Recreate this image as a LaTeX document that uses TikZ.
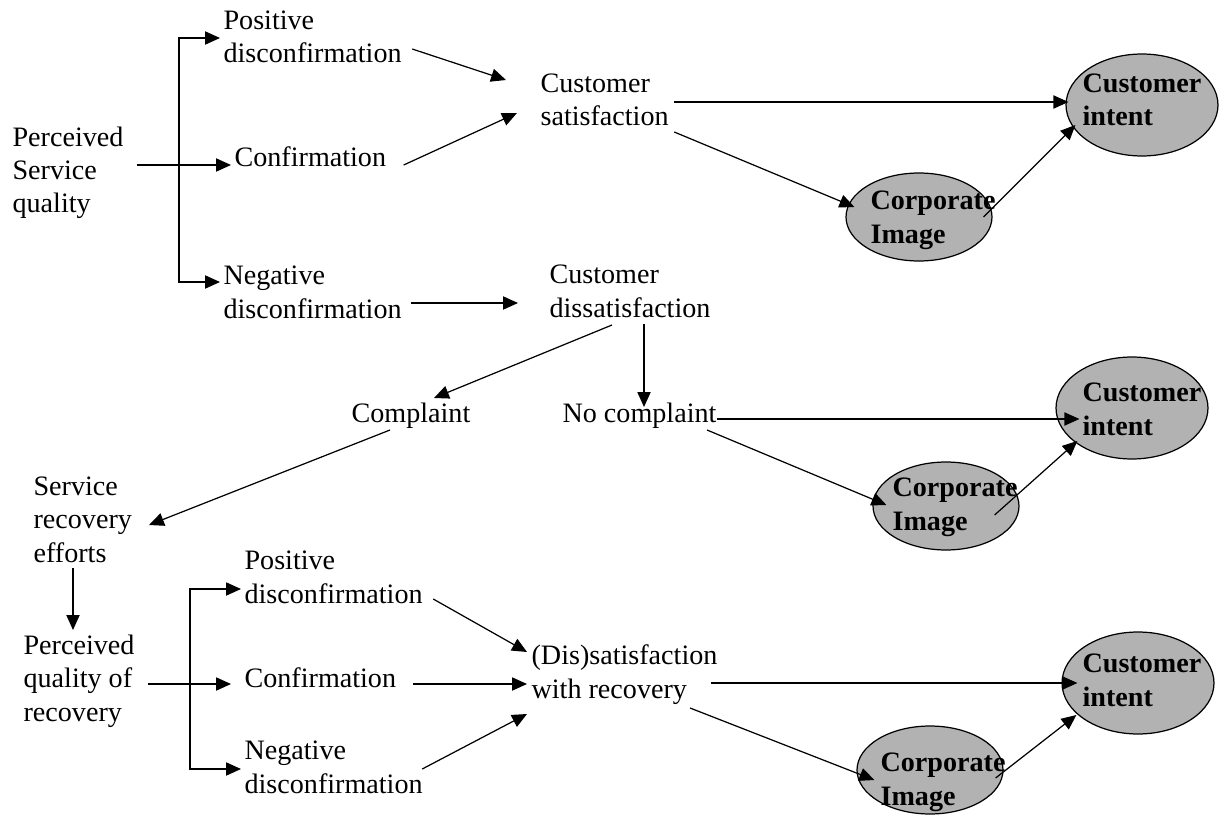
\documentclass[tikz,border=0pt]{standalone}
\usepackage{fontspec}
\setmainfont{Liberation Serif}
\usetikzlibrary{arrows.meta, shapes}

\definecolor{ovalgray}{gray}{0.7}
\tikzset{
  oval/.style={ellipse, draw, fill=ovalgray, anchor=center},
  intent/.style={oval, minimum width=3.04cm, minimum height=2.04cm},
  image/.style={oval, minimum width=2.92cm, minimum height=1.76cm}
}

\begin{document}
\begin{tikzpicture}[x=0.02cm, y=-0.02cm, line width=0.7pt, >={Triangle[length=8.5pt,width=7.5pt]}]
    \tikzstyle{every node} = [anchor=base west, inner sep=0pt, align=left, font=\fontsize{16}{19}\selectfont]
    \useasboundingbox (0,0) rectangle (1221,821);
    % first part: service quality
    \node (psq) at (12,213) {Perceived\\Service\\quality};
    \node (pd1) at (223,63) {Positive\\disconfirmation};
    \node (cf1) at (234,167) {Confirmation};
    \node (nd1) at (223,318) {Negative\\disconfirmation};
    \node (cs) at (540,126) {Customer\\satisfaction};
    \node (ci1) [intent] at (1142,105) {};
    \node (ci1t) at (1082,126) {\bfseries Customer\\\bfseries intent};
    \node (img1) [image] at (919,217) {};
    \node (img1t) at (870,243) {\bfseries Corporate\\\bfseries Image};
    \coordinate (b1) at (179,165);
      \draw [->] ([shift={(13,-48)}]psq.base east) -- ([shift={(-3,-2)}]cf1.base west);
      \draw [<->] ([shift={(-3,-25)}]pd1.base west) -| (b1) |- ([shift={(-3,-36)}]nd1.base west);
      \draw [->] ([shift={(10,-14)}]pd1.base east) -- ([shift={(-34,-46)}]cs.base west);
      \draw [->] ([shift={(17,-2)}]cf1.base east) -- ([shift={(-23,-13)}]cs.base west);
      \draw [->] ([shift={(5,-24)}]cs.base east) -- ([shift={(3,-3)}]ci1.west);
      \draw [->] ([shift={(5,6)}]cs.base east) -- ([shift={(9,-10)}]img1.west);
      \draw [->] ([shift={(-9,0)}]img1.east) -- ([shift={(10,20)}]ci1.west);
    % second part: dissatisfaction
    \node (cd) at (549,317) {Customer\\dissatisfaction};
    \node (cp) at (351,422) {Complaint};
    \node (nc) at (562,422) {No complaint};
    \node (ci2) [intent] at (1132,408) {};
    \node (ci2t) at (1082,435) {\bfseries Customer\\\bfseries intent};
    \node (img2) [image] at (946,506) {};
    \node (img2t) at (892,530) {\bfseries Corporate\\\bfseries Image};
      \draw [->] ([shift={(9,-15)}]nd1.base east) -- ([shift={(-31,-14)}]cd.base west);
      \draw [->] ([shift={(63,8)}]cd.base west) -- ([shift={(83,-24)}]cp.base west);
      \draw [->] ([shift={(95,7)}]cd.base west) -- ([shift={(82,-15)}]nc.base west);
      \draw [->] ([shift={(0,-3)}]nc.base east) -- ([shift={(24,11)}]ci2.west);
      \draw [->] ([shift={(-10,8)}]nc.base east) -- ([shift={(14,-1)}]img2.west);
      \draw [->] ([shift={(-25,9)}]img2.east) -- ([shift={(22,33)}]ci2.west);
    % third part: recovery
    \node (sre) at (33,562) {Service\\recovery\\efforts};
    \node (pqr) at (23,721) {Perceived\\quality of\\recovery};
    \node (pd2) at (244,603) {Positive\\disconfirmation};
    \node (cf2) at (244,687) {Confirmation};
    \node (nd2) at (244,793) {Negative\\disconfirmation};
    \node (dsr) at (531,698) {(Dis)satisfaction\\with recovery};
    \node (ci3) [intent] at (1138,683) {};
    \node (ci3t) at (1082,706) {\bfseries Customer\\\bfseries intent};
    \node (img3) [image] at (930,770) {};
    \node (img3t) at (880,805) {\bfseries Corporate\\\bfseries Image};
    \coordinate (b2) at (190,684);
      \draw [->] ([shift={(39,8)}]cp.base west) -- ([shift={(116,-37)}]sre.base west);
      \draw [->] ([shift={(40,6)}]sre.base west) -- ([shift={(50,-91)}]pqr.base west);
      \draw [->] ([shift={(13,-37)}]pqr.base east) -- ([shift={(-13,-3)}]cf2.base west);
      \draw [<->] ([shift={(-3,-14)}]pd2.base west) -| (b2) |- ([shift={(-3,-24)}]nd2.base west);
      \draw [->] ([shift={(10,-4)}]pd2.base east) -- ([shift={(-4,-46)}]dsr.base west);
      \draw [->] ([shift={(16,-3)}]cf2.base east) -- ([shift={(-4,-14)}]dsr.base west);
      \draw [->] ([shift={(-1,-24)}]nd2.base east) -- ([shift={(-4,16)}]dsr.base west);
      \draw [->] ([shift={(-7,-15)}]dsr.base east) -- ([shift={(16,0)}]ci3.west);
      \draw [->] ([shift={(-28,10)}]dsr.base east) -- ([shift={(18,10)}]img3.west);
      \draw [->] ([shift={(-8,8)}]img3.east) -- ([shift={(15,32)}]ci3.west);
  \end{tikzpicture}
\end{document}
